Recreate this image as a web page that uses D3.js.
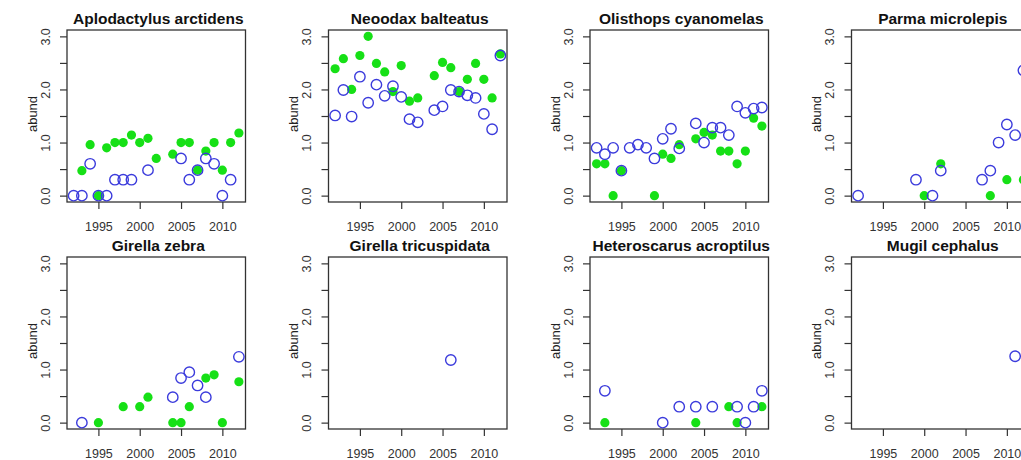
<!DOCTYPE html>
<html>
<head>
<meta charset="utf-8">
<script src="https://cdn.jsdelivr.net/npm/d3@7"></script>
<style>
  body { margin: 0; background: #fff; }
  svg { display: block; font-family: "Liberation Sans", Arial, sans-serif; }
</style>
</head>
<body>
<svg id="chart" width="1021" height="460"></svg>
<script>
// survey years, one slot per year (null = no observation)
const years = [1992, 1993, 1994, 1995, 1996, 1997, 1998, 1999, 2000, 2001, 2002,
               2003, 2004, 2005, 2006, 2007, 2008, 2009, 2010, 2011, 2012];

const species = ["Aplodactylus arctidens", "Neoodax balteatus", "Olisthops cyanomelas", "Parma microlepis",
                 "Girella zebra", "Girella tricuspidata", "Heteroscarus acroptilus", "Mugil cephalus"];

// open (blue) circles
const aplodactylusOpen = [0, 0, 0.6, 0, 0, 0.3, 0.3, 0.3, null, 0.48, null, null, null, 0.7, 0.3, 0.48, 0.7, 0.6, 0, 0.3, null];
const neoodaxOpen = [1.51, 1.99, 1.49, 2.24, 1.75, 2.09, 1.88, 2.06, 1.86, 1.44, 1.38, null, 1.61, 1.68, 1.99, 1.96, 1.89, 1.84, 1.54, 1.25, 2.64];
const olisthopsOpen = [0.9, 0.78, 0.9, 0.47, 0.9, 0.96, 0.9, 0.7, 1.07, 1.26, 0.89, null, 1.36, 1.0, 1.28, 1.28, 1.14, 1.68, 1.56, 1.64, 1.66];
const parmaOpen = [0, null, null, null, null, null, null, 0.3, null, 0, 0.47, null, null, null, null, 0.3, 0.47, 1.0, 1.34, 1.14, 2.36];
const zebraOpen = [null, 0, null, null, null, null, null, null, null, null, null, null, 0.48, 0.84, 0.95, 0.7, 0.48, null, null, null, 1.24];
const tricuspidataOpen = [null, null, null, null, null, null, null, null, null, null, null, null, null, null, 1.18, null, null, null, null, null, null];
const heteroscarusOpen = [null, 0.6, null, null, null, null, null, null, 0, null, 0.3, null, 0.3, null, 0.3, null, null, 0.3, 0, 0.3, 0.6];
const mugilOpen = [null, null, null, null, null, null, null, null, null, null, null, null, null, null, null, null, null, null, null, 1.25, null];

// filled (green) circles
const aplodactylusFilled = [null, 0.47, 0.96, 0, 0.9, 1.0, 1.0, 1.14, 1.0, 1.08, 0.7, null, 0.78, 1.0, 1.0, 0.48, 0.84, 1.0, 0.48, 1.0, 1.18];
const neoodaxFilled = [2.39, 2.58, 2.0, 2.64, 3.0, 2.49, 2.33, 1.96, 2.45, 1.78, 1.84, null, 2.26, 2.51, 2.41, 1.96, 2.19, 2.49, 2.19, 1.84, 2.67];
const olisthopsFilled = [0.6, 0.6, 0, 0.47, null, null, null, 0, 0.78, 0.7, 0.96, null, 1.07, 1.19, 1.14, 0.84, 0.84, 0.6, 0.84, 1.46, 1.31];
const parmaFilled = [null, null, null, null, null, null, null, null, 0, null, 0.6, null, null, null, null, null, 0, null, 0.3, null, 0.3];
const zebraFilled = [null, null, null, 0, null, null, 0.3, null, 0.3, 0.48, null, null, 0, 0, 0.3, null, 0.84, 0.9, 0, null, 0.77];
const tricuspidataFilled = [null, null, null, null, null, null, null, null, null, null, null, null, null, null, null, null, null, null, null, null, null];
const heteroscarusFilled = [null, 0, null, null, null, null, null, null, null, null, null, null, 0, null, null, null, 0.3, 0, null, null, 0.3];
const mugilFilled = [null, null, null, null, null, null, null, null, null, null, null, null, null, null, null, null, null, null, null, null, null];

const openSeries = [aplodactylusOpen, neoodaxOpen, olisthopsOpen, parmaOpen, zebraOpen, tricuspidataOpen, heteroscarusOpen, mugilOpen];
const filledSeries = [aplodactylusFilled, neoodaxFilled, olisthopsFilled, parmaFilled, zebraFilled, tricuspidataFilled, heteroscarusFilled, mugilFilled];

const yTicks = [0, 0.5, 1, 1.5, 2, 2.5, 3];
const xTicks = [1995, 2000, 2005, 2010];

// panel geometry
const colLeft = [67, 328.5, 590, 851.5];
const rowTop = [30, 257];
const pw = 178.5, ph = 172;

const svg = d3.select("#chart");
svg.append("rect").attr("width", 1021).attr("height", 460).attr("fill", "#fff");

// R style 4% padding on both axes
const x = d3.scaleLinear().domain([1991.2, 2012.8]).range([0, pw]);
const y = d3.scaleLinear().domain([-0.12, 3.12]).range([ph, 0]);

species.forEach(function(name, i) {
  const g = svg.append("g")
    .attr("transform", "translate(" + colLeft[i % 4] + "," + rowTop[Math.floor(i / 4)] + ")");

  // y axis, labels rotated like R
  const ya = g.append("g")
    .call(d3.axisLeft(y).tickValues(yTicks).tickSize(7)
      .tickFormat(function(d) { return d % 1 === 0 ? d3.format(".1f")(d) : ""; }));
  ya.select(".domain").remove();
  ya.selectAll("line").attr("stroke", "#333").attr("stroke-width", 1.2);
  ya.selectAll("text")
    .attr("transform", "rotate(-90)")
    .attr("x", 0).attr("y", -17.5).attr("dy", null)
    .attr("text-anchor", "middle")
    .attr("font-size", 12.5).attr("fill", "#333");

  // x axis
  const xa = g.append("g")
    .attr("transform", "translate(0," + ph + ")")
    .call(d3.axisBottom(x).tickValues(xTicks).tickSize(7).tickFormat(d3.format("d")));
  xa.select(".domain").remove();
  xa.selectAll("line").attr("stroke", "#333").attr("stroke-width", 1.2);
  xa.selectAll("text")
    .attr("y", 29).attr("dy", null)
    .attr("font-size", 12.5).attr("fill", "#333");

  // box
  g.append("rect")
    .attr("width", pw).attr("height", ph)
    .attr("fill", "none").attr("stroke", "#333").attr("stroke-width", 1.3);

  g.append("text")
    .attr("x", pw / 2 + 2).attr("y", -6)
    .attr("text-anchor", "middle")
    .attr("font-weight", "bold").attr("font-size", 15.5).attr("fill", "#111")
    .text(name);

  g.append("text")
    .attr("transform", "rotate(-90)")
    .attr("x", -ph / 2 + 2).attr("y", -30.5)
    .attr("text-anchor", "middle")
    .attr("font-size", 13).attr("fill", "#222")
    .text("abund");

  const filled = years.map(function(yr, k) { return {year: yr, v: filledSeries[i][k]}; })
    .filter(function(d) { return d.v !== null; });
  const open = years.map(function(yr, k) { return {year: yr, v: openSeries[i][k]}; })
    .filter(function(d) { return d.v !== null; });

  g.selectAll(".filled").data(filled).enter().append("circle")
    .attr("class", "filled")
    .attr("cx", function(d) { return x(d.year); })
    .attr("cy", function(d) { return y(d.v); })
    .attr("r", 4.6)
    .attr("fill", "#16e016");

  g.selectAll(".open").data(open).enter().append("circle")
    .attr("class", "open")
    .attr("cx", function(d) { return x(d.year); })
    .attr("cy", function(d) { return y(d.v); })
    .attr("r", 5.2)
    .attr("fill", "none")
    .attr("stroke", "#3b3bdc")
    .attr("stroke-width", 1.4);
});
</script>
</body>
</html>
